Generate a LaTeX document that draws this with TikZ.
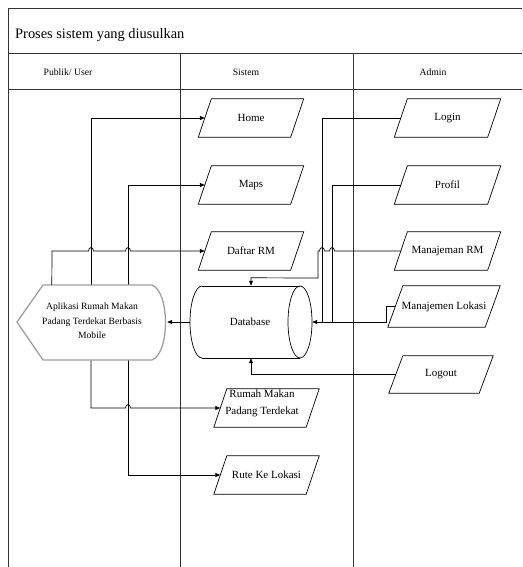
\documentclass[tikz,border=0pt]{standalone}
\usepackage{fontspec}
\setmainfont{Liberation Serif}
\usetikzlibrary{shapes.geometric,arrows.meta,calc}
\newcommand\pbox[7]{%
  \node[boxtext, minimum width=#4pt, minimum height=#5pt] (#1) at (#2,#3) {#7};
  \draw[boxline] ($(#1.south west)+(-#6,0)$) -- ($(#1.north west)+(#6,0)$)
    -- ($(#1.north east)+(#6,0)$) -- ($(#1.south east)+(-#6,0)$) -- cycle;}
\begin{document}
\begin{tikzpicture}[x=1pt,y=-1pt,
  frame/.style={line width=1pt, draw=black!80},
  boxtext/.style={inner sep=0pt, align=center, font=\fontsize{11}{13}\selectfont},
  boxline/.style={draw, line width=0.7pt},
  conn/.style={line width=0.7pt},
  arr/.style={conn, -{Triangle[length=5pt,width=4pt]}},
  hdr/.style={font=\fontsize{9.7}{11}\selectfont},
  lbl/.style={align=center, inner sep=0pt},
]
\useasboundingbox (0,0) rectangle (522,567);
% frame
\draw[frame] (522,9) -- (8,9) -- (8,567);
\draw[frame] (8,54) -- (522,54);
\draw[frame] (8,90) -- (522,90);
\draw[frame] (180,54) -- (180,567);
\draw[frame] (353,54) -- (353,567);
\node[anchor=west, inner sep=0pt, font=\fontsize{14.4}{17}\selectfont] (title) at (15,35) {Proses sistem yang diusulkan};
\node[hdr] (h1) at (68,72) {Publik/ User};
\node[hdr] (h2) at (246,72) {Sistem};
\node[hdr] (h3) at (433,72) {Admin};

% boxes: name, cx, cy, side width, height, half slant, text
\pbox{home}{251}{118}{92}{38}{6.5}{Home}
\pbox{maps}{251}{185}{92}{38}{6.5}{Maps}
\pbox{daftar}{251}{251}{92}{38}{6.5}{Daftar RM}
\pbox{rm}{266.5}{408}{92}{38}{6.5}{}
\node[lbl, font=\fontsize{11}{17}\selectfont] (rmtxt) at (262,403.5) {Rumah Makan\\Padang Terdekat};
\pbox{rute}{266.5}{475}{92}{38}{6.5}{Rute Ke Lokasi}
\pbox{login}{447.5}{118}{93}{38}{6.5}{Login}
\pbox{profil}{447.5}{185}{93}{38}{6.5}{Profil}
\pbox{mrm}{447.5}{251}{93}{38}{6.5}{Manajeman RM}
\pbox{mlok}{444}{306.5}{97}{41}{7.5}{Manajemen Lokasi}
\pbox{logout}{441}{374.5}{90}{37}{7}{Logout}

% database cylinder
\node[minimum width=122pt, minimum height=72pt, inner sep=0pt] (db) at (251,322) {};
\draw[conn] (202,286) -- (300,286) (202,358) -- (300,358);
\draw[conn] (300,322) ellipse [x radius=12pt, y radius=36pt];
\draw[conn] (202,286) .. controls (195.4,286) and (190,302.1) .. (190,322)
  .. controls (190,341.9) and (195.4,358) .. (202,358);
\node[font=\fontsize{11}{13}\selectfont] (dbtxt) at (250,322) {Database};

% user side connectors
\draw[arr] (91,300) -- (91,118) -- (home.west);
\draw[arr] (91,300) -- (91,408) -- (125.5,408) .. controls (125.5,403.5) and (130.5,403.5) .. (130.5,408) -- (rm.west);
\draw[arr] (128,300) -- (128,185) -- (maps.west);
\draw[arr] (128,300) -- (128,475) -- (rute.west);

% application display shape
\node[minimum width=150pt, minimum height=75pt, inner sep=0pt] (app) at (92,322.5) {};
\draw[gray!75, line width=1.3pt, fill=white] (17,322) -- (43,285) -- (152,285)
  .. controls (170,292) and (170,353) .. (152,360) -- (43,360) -- cycle;
\node[lbl, font=\fontsize{9.6}{14.5}\selectfont] (apptxt) at (92,321) {Aplikasi Rumah Makan\\Padang Terdekat Berbasis\\Mobile};

\draw[arr] ($(app.north west)+(35,0)$) -- (52,251) -- (88.5,251)
  .. controls (88.5,246.5) and (93.5,246.5) .. (93.5,251) -- (125.5,251)
  .. controls (125.5,246.5) and (130.5,246.5) .. (130.5,251) -- (daftar.west);

\draw[arr] (db.west) -- (db.west -| app.east);

% admin side connectors
\draw[conn] (login.west) -- (322,118) -- (322,322);
\draw[conn] (profil.west) -- (332,185) -- (332,322);
\draw[arr] (mlok.west) -- (386,306.5) -- (386,322) -- (db.east);
\draw[arr] (mrm.west) -- (334.5,251) .. controls (334.5,246.5) and (329.5,246.5) .. (329.5,251)
  -- (324.5,251) .. controls (324.5,246.5) and (319.5,246.5) .. (319.5,251)
  -- (318,251) -- (318,278) -- ($(db.north)+(0,-8)$) -- (db.north);
\draw[arr] (logout.west) -- (251,374.5) -- (db.south);
\end{tikzpicture}
\end{document}
